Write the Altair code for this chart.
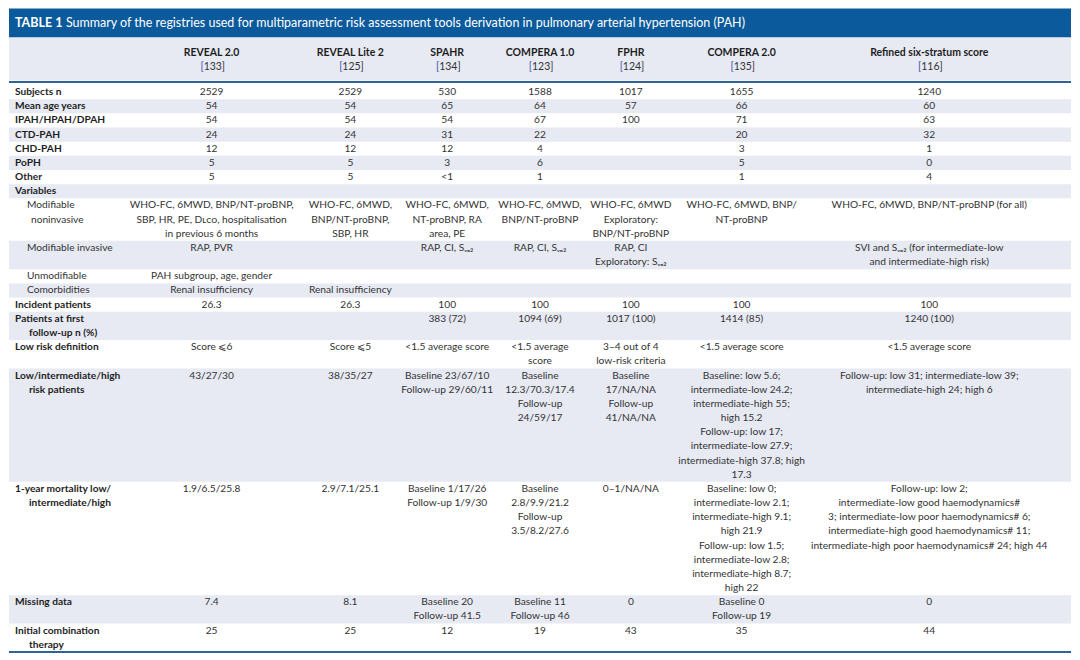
import altair as alt
import pandas as pd

# ---------------- data ----------------
title_lead = "TABLE 1"
title_text = ("Summary of the registries used for multiparametric risk assessment tools "
              "derivation in pulmonary arterial hypertension (PAH)")

columns = ["REVEAL 2.0", "REVEAL Lite 2", "SPAHR", "COMPERA 1.0", "FPHR",
           "COMPERA 2.0", "Refined six-stratum score"]
refs = ["133]", "125]", "134]", "123]", "124]", "135]", "116]"]

row_labels = [
    "Subjects n", "Mean age years", "IPAH/HPAH/DPAH", "CTD-PAH", "CHD-PAH", "PoPH",
    "Other", "Variables", "Modifiable\nnoninvasive", "Modifiable invasive",
    "Unmodifiable", "Comorbidities", "Incident patients",
    "Patients at first\nfollow-up n (%)", "Low risk definition",
    "Low/intermediate/high\nrisk patients", "1-year mortality low/\nintermediate/high",
    "Missing data", "Initial combination\ntherapy",
]
label_bold = [True] * 8 + [False] * 4 + [True] * 7

SVO2 = "Sᵥₒ₂"
DLCO = "Dʟᴄᴏ"

reveal2 = ["2529", "54", "54", "24", "12", "5", "5", "",
           f"WHO-FC, 6MWD, BNP/NT-proBNP,\nSBP, HR, PE, {DLCO}, hospitalisation\nin previous 6 months",
           "RAP, PVR", "PAH subgroup, age, gender", "Renal insufficiency", "26.3", "",
           "Score ⩽6", "43/27/30", "1.9/6.5/25.8", "7.4", "25"]
reveal_lite2 = ["2529", "54", "54", "24", "12", "5", "5", "",
                "WHO-FC, 6MWD,\nBNP/NT-proBNP,\nSBP, HR",
                "", "", "Renal insufficiency", "26.3", "",
                "Score ⩽5", "38/35/27", "2.9/7.1/25.1", "8.1", "25"]
spahr = ["530", "65", "54", "31", "12", "3", "<1", "",
         "WHO-FC, 6MWD,\nNT-proBNP, RA\narea, PE",
         f"RAP, CI, {SVO2}", "", "", "100", "383 (72)",
         "<1.5 average score", "Baseline 23/67/10\nFollow-up 29/60/11",
         "Baseline 1/17/26\nFollow-up 1/9/30", "Baseline 20\nFollow-up 41.5", "12"]
compera1 = ["1588", "64", "67", "22", "4", "6", "1", "",
            "WHO-FC, 6MWD,\nBNP/NT-proBNP",
            f"RAP, CI, {SVO2}", "", "", "100", "1094 (69)",
            "<1.5 average\nscore", "Baseline\n12.3/70.3/17.4\nFollow-up\n24/59/17",
            "Baseline\n2.8/9.9/21.2\nFollow-up\n3.5/8.2/27.6",
            "Baseline 11\nFollow-up 46", "19"]
fphr = ["1017", "57", "100", "", "", "", "", "",
        "WHO-FC, 6MWD\nExploratory:\nBNP/NT-proBNP",
        f"RAP, CI\nExploratory: {SVO2}", "", "", "100", "1017 (100)",
        "3–4 out of 4\nlow-risk criteria", "Baseline\n17/NA/NA\nFollow-up\n41/NA/NA",
        "0–1/NA/NA", "0", "43"]
compera2 = ["1655", "66", "71", "20", "3", "5", "1", "",
            "WHO-FC, 6MWD, BNP/\nNT-proBNP",
            "", "", "", "100", "1414 (85)", "<1.5 average score",
            "Baseline: low 5.6;\nintermediate-low 24.2;\nintermediate-high 55;\nhigh 15.2\n"
            "Follow-up: low 17;\nintermediate-low 27.9;\nintermediate-high 37.8; high\n17.3",
            "Baseline: low 0;\nintermediate-low 2.1;\nintermediate-high 9.1;\nhigh 21.9\n"
            "Follow-up: low 1.5;\nintermediate-low 2.8;\nintermediate-high 8.7;\nhigh 22",
            "Baseline 0\nFollow-up 19", "35"]
refined = ["1240", "60", "63", "32", "1", "0", "4", "",
           "WHO-FC, 6MWD, BNP/NT-proBNP (for all)",
           f"SVI and {SVO2} (for intermediate-low\nand intermediate-high risk)",
           "", "", "100", "1240 (100)", "<1.5 average score",
           "Follow-up: low 31; intermediate-low 39;\nintermediate-high 24; high 6",
           "Follow-up: low 2;\nintermediate-low good haemodynamics#\n"
           "3; intermediate-low poor haemodynamics# 6;\n"
           "intermediate-high good haemodynamics# 11;\n"
           "intermediate-high poor haemodynamics# 24; high 44",
           "0", "44"]

table_cols = [reveal2, reveal_lite2, spahr, compera1, fphr, compera2, refined]

# ---------------- layout (page pixel coordinates) ----------------
LEFT, RIGHT = 8, 1072
TOP, BOTTOM = 8, 654
col_x = [211, 350, 447, 540, 631, 742, 930]
LABEL_X, LABEL_CONT_X, SUB_X, SUB_CONT_X = 14, 28, 26, 30
TITLE_Y0, TITLE_Y1 = 8, 37
HEAD_Y1 = 80
BODY_TOP = 84.5
LINE_H = 14.2
FS = 10.2

FONT = "Lato"
BLUE = "#0b5a9b"
SHADE = "#e7eaf3"
TEXT = "#333333"
LABEL = "#1e1e1e"
LINK = "#3a46b0"

n_lines = []
for i in range(len(row_labels)):
    counts = [len(row_labels[i].split("\n"))] + [len(c[i].split("\n")) for c in table_cols]
    n_lines.append(max(counts))

row_top = []
y = BODY_TOP
for n in n_lines:
    row_top.append(y)
    y += n * LINE_H
body_bottom = y

# background rectangles
rects = [dict(x=LEFT, x2=RIGHT, y=TITLE_Y0, y2=TITLE_Y1, c=BLUE),
         dict(x=LEFT, x2=RIGHT, y=TITLE_Y1, y2=HEAD_Y1, c=SHADE)]
for i, n in enumerate(n_lines):
    if i % 2 == 1:
        rects.append(dict(x=LEFT, x2=RIGHT, y=row_top[i], y2=row_top[i] + n * LINE_H, c=SHADE))
rect_df = pd.DataFrame(rects)

rules_df = pd.DataFrame([
    dict(x=LEFT, x2=RIGHT, y=HEAD_Y1 + 1.5),
    dict(x=LEFT, x2=RIGHT, y=body_bottom),
])

# body text
body, lab_bold_rows, lab_norm_rows = [], [], []
for i, lab in enumerate(row_labels):
    for k, line in enumerate(lab.split("\n")):
        yy = row_top[i] + (k + 0.5) * LINE_H
        if label_bold[i]:
            lab_bold_rows.append(dict(x=LABEL_X if k == 0 else LABEL_CONT_X, y=yy, t=line))
        else:
            lab_norm_rows.append(dict(x=SUB_X if k == 0 else SUB_CONT_X, y=yy, t=line))
    for j, col in enumerate(table_cols):
        for k, line in enumerate(col[i].split("\n")):
            if line:
                body.append(dict(x=col_x[j], y=row_top[i] + (k + 0.5) * LINE_H, t=line))

body_df = pd.DataFrame(body)
lab_b_df = pd.DataFrame(lab_bold_rows)
lab_n_df = pd.DataFrame(lab_norm_rows)
head_df = pd.DataFrame([dict(x=col_x[j], y=52, t=columns[j]) for j in range(len(columns))])
ref_df = pd.DataFrame([dict(x=col_x[j] - 8, y=67, t=refs[j]) for j in range(len(refs))])
bracket_df = pd.DataFrame([dict(x=col_x[j] - 8, y=67, t="[") for j in range(len(refs))])
title_df = pd.DataFrame([dict(x=14, y=22.5, t=title_lead)])
title2_df = pd.DataFrame([dict(x=65, y=22.5, t=title_text)])

xs = alt.Scale(domain=[LEFT, RIGHT])
ys = alt.Scale(domain=[TOP, BOTTOM], reverse=True)
X = alt.X("x:Q", scale=xs, axis=None)
Y = alt.Y("y:Q", scale=ys, axis=None)

bg = alt.Chart(rect_df).mark_rect().encode(
    x=X, x2="x2:Q", y=Y, y2="y2:Q", color=alt.Color("c:N", scale=None))
rules = alt.Chart(rules_df).mark_rule(color="#2f6499", strokeWidth=2).encode(
    x=X, x2="x2:Q", y=Y)

def txt(df, **kw):
    return alt.Chart(df).mark_text(font=FONT, baseline="middle", **kw).encode(
        x=X, y=Y, text="t:N")

layers = [
    bg, rules,
    txt(title_df, align="left", fontSize=12.5, fontWeight="bold", color="white"),
    txt(title2_df, align="left", fontSize=12.5, color="white"),
    txt(head_df, align="center", fontSize=10.5, fontWeight="bold", color=LABEL),
    txt(ref_df, align="left", fontSize=10.5, color=TEXT),
    txt(bracket_df, align="right", fontSize=10.5, color=LINK),
    txt(lab_b_df, align="left", fontSize=FS, fontWeight="bold", color=LABEL),
    txt(lab_n_df, align="left", fontSize=FS, color=TEXT),
    txt(body_df, align="center", fontSize=FS, color=TEXT),
]

chart = alt.layer(*layers).properties(
    width=RIGHT - LEFT, height=BOTTOM - TOP, padding=0
).configure_view(stroke=None)

chart.save("out.html", embed_options={"renderer": "svg", "actions": False})
